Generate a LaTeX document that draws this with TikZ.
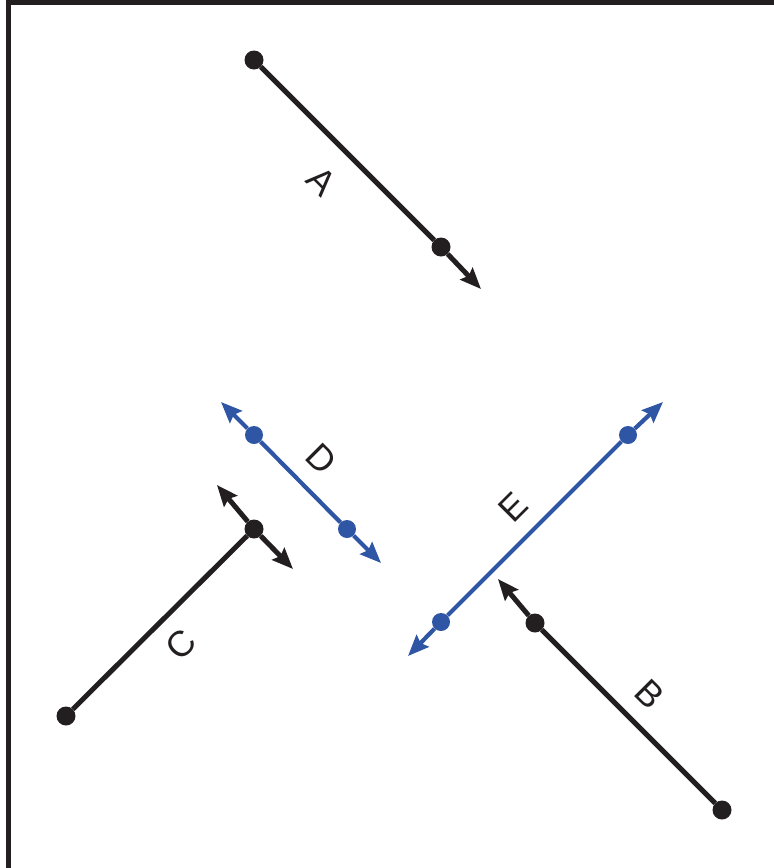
\documentclass[tikz,border=0pt]{standalone}
\usepackage{fontspec}
\setmainfont{Liberation Sans}
\usetikzlibrary{arrows.meta}
\definecolor{inkblack}{HTML}{231F20}
\definecolor{rayblue}{HTML}{2F55A5}
\tikzset{
  dot/.style={circle, fill=inkblack, inner sep=0pt, minimum size=19pt},
  bluedot/.style={dot, fill=rayblue, minimum size=18pt},
  segment/.style={line width=5pt, draw=inkblack},
  bluesegment/.style={line width=4.2pt, draw=rayblue},
  ray/.style={segment, -{Stealth[length=21pt, width=17pt, inset=3pt]}},
  blueray/.style={bluesegment, -{Stealth[length=21pt, width=17pt, inset=3pt]}},
  letter/.style={font=\fontsize{36}{42}\selectfont, text=inkblack, inner sep=0pt}
}

\begin{document}
\begin{tikzpicture}[x=1pt, y=-1pt]

    \useasboundingbox (0, 0) rectangle (774, 868);

    % Frame
    \draw[line width=4.5pt, inkblack] (8.5, 868) -- (8.5, 2.5) -- (774, 2.5);

    % A
    \node[dot] (A-start) at (254, 60) {};
    \node[dot] (A-point) at (441, 247) {};
    \coordinate (A-tip) at (481, 289);
    \draw[segment] (A-start) -- (A-point);
    \draw[ray] (A-point) -- (A-tip);
    \node[letter, rotate=-45] (A-label) at (322, 181) {A};

    % B
    \node[dot] (B-start) at (722, 810) {};
    \node[dot] (B-point) at (535, 623) {};
    \coordinate (B-tip) at (498, 579);
    \draw[segment] (B-start) -- (B-point);
    \draw[ray] (B-point) -- (B-tip);
    \node[letter, rotate=-45] (B-label) at (650, 694) {B};

    % C
    \node[dot] (C-start) at (66, 716) {};
    \node[dot] (C-point) at (254, 529) {};
    \coordinate (C-tip-up) at (217, 485);
    \coordinate (C-tip-down) at (293, 569);
    \draw[segment] (C-start) -- (C-point);
    \draw[ray] (C-point) -- (C-tip-up);
    \draw[ray] (C-point) -- (C-tip-down);
    \node[letter, rotate=45] (C-label) at (181, 645) {C};

    % D
    \node[bluedot] (D-first) at (254, 435) {};
    \node[bluedot] (D-second) at (347, 529) {};
    \coordinate (D-tip-up) at (221, 402);
    \coordinate (D-tip-down) at (381, 563);
    \draw[bluesegment] (D-first) -- (D-second);
    \draw[blueray] (D-first) -- (D-tip-up);
    \draw[blueray] (D-second) -- (D-tip-down);
    \node[letter, rotate=-45] (D-label) at (321, 459) {D};

    % E
    \node[bluedot] (E-first) at (441, 622) {};
    \node[bluedot] (E-second) at (628, 435) {};
    \coordinate (E-tip-down) at (408, 656);
    \coordinate (E-tip-up) at (663, 402);
    \draw[bluesegment] (E-first) -- (E-second);
    \draw[blueray] (E-first) -- (E-tip-down);
    \draw[blueray] (E-second) -- (E-tip-up);
    \node[letter, rotate=45] (E-label) at (513, 507) {E};

\end{tikzpicture}
\end{document}
